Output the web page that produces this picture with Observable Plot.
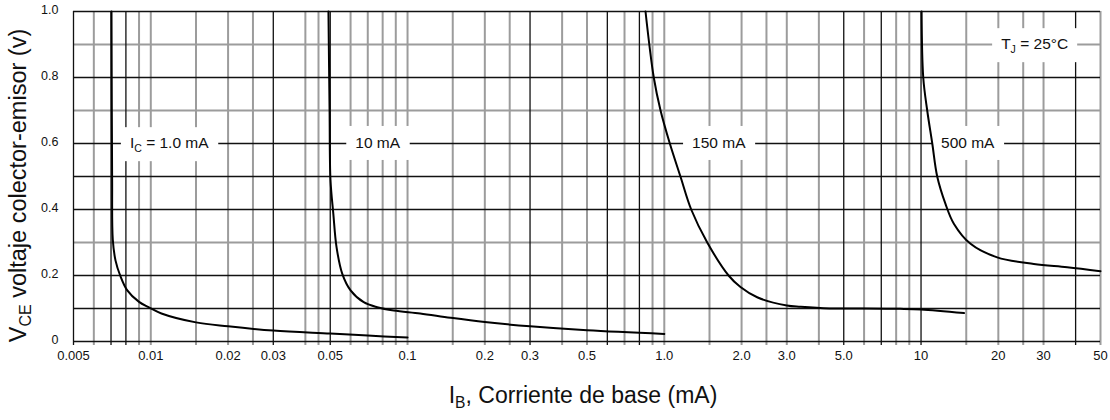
<!DOCTYPE html>
<html><head><meta charset="utf-8">
<script src="https://cdn.jsdelivr.net/npm/d3@7"></script>
<script src="https://cdn.jsdelivr.net/npm/@observablehq/plot@0.6"></script>
<style>body{margin:0;background:#fff;}</style>
</head><body><div id="chart"></div>
<script>
// ---- tick labels ----
const xTickValues = [0.005,0.01,0.02,0.03,0.05,0.1,0.2,0.3,0.5,1,2,3,5,10,20,30,50];
const xTickLabels = ["0.005","0.01","0.02","0.03","0.05","0.1","0.2","0.3","0.5","1.0","2.0","3.0","5.0","10","20","30","50"];
const yTickValues = [0,0.2,0.4,0.6,0.8,1.0];
const yTickLabels = ["0","0.2","0.4","0.6","0.8","1.0"];

// ---- grid (datasheet style: dark and grey lines) ----
const gridXDark = [0.005,0.007,0.008,0.03,0.05,0.3,0.6,0.8,5,7,10,40];
const gridXGrey = [0.006,0.009,0.01,0.015,0.02,0.025,0.04,0.045,0.06,0.07,0.08,0.09,0.1,0.15,0.2,0.25,0.4,0.5,0.7,0.9,1,1.5,2,2.5,3,4,6,8,9,15,20,25,30,50];
const gridYDark = [0,0.1,0.2,0.4,0.5,0.6,0.8,1.0];
const gridYGrey = [0.3,0.7,0.9];

// ---- curves: IB (mA) vs VCE (V) ----
const ic1IB  = [0.00703,0.00705,0.00707,0.00711,0.00729,0.0076,0.0081,0.009,0.0098,0.011,0.015,0.02,0.03,0.05,0.07,0.1];
const ic1VCE = [1.0,0.70,0.49,0.31,0.245,0.20,0.155,0.12,0.104,0.085,0.058,0.046,0.033,0.024,0.018,0.012];
const ic2IB  = [0.0492,0.0497,0.0501,0.0514,0.0529,0.0557,0.060,0.0675,0.0762,0.0884,0.112,0.147,0.2,0.3,0.5,1.0];
const ic2VCE = [1.0,0.70,0.49,0.387,0.286,0.205,0.155,0.119,0.104,0.094,0.085,0.072,0.059,0.046,0.034,0.023];
const ic3IB  = [0.845,0.91,0.967,1.051,1.156,1.273,1.47,1.78,1.98,2.3,3.0,3.4,4.4,6.0,8.3,10,14.7];
const ic3VCE = [1.0,0.80,0.70,0.60,0.50,0.40,0.30,0.20,0.165,0.134,0.109,0.105,0.100,0.100,0.099,0.097,0.086];
const ic4IB  = [10.05,10.2,10.57,11.06,11.56,12.45,13.42,15.59,19.8,27.5,37.1,50];
const ic4VCE = [1.0,0.80,0.70,0.60,0.50,0.417,0.357,0.296,0.255,0.235,0.225,0.213];

// ---- annotations ----
const labelTexts = ["I_C = 1.0 mA","10 mA","150 mA","500 mA","T_J = 25°C"];
const labelIB    = [0.0118,0.0765,1.63,15.2,27.7];
const labelVCE   = [0.6,0.6,0.6,0.6,0.9];

const xTitle = "I_B, Corriente de base (mA)";
const yTitle = "V_CE voltaje colector-emisor (v)";

// build tables
const seriesList = [["1.0",ic1IB,ic1VCE],["10",ic2IB,ic2VCE],["150",ic3IB,ic3VCE],["500",ic4IB,ic4VCE]];
const rows = seriesList.flatMap(([ic,ib,v]) => ib.map((d,i)=>({ic, ib:d, vce:v[i]})));
const labels = labelTexts.map((t,i)=>({text:t, ib:labelIB[i], vce:labelVCE[i]}));
const xTicks = xTickValues.map((d,i)=>({v:d, label:xTickLabels[i]}));
const yFmt = new Map(yTickValues.map((d,i)=>[d,yTickLabels[i]]));

const GREY = "#9c9c9c", DARK = "#111";

const chart = Plot.plot({
  width:1110, height:420,
  marginLeft:73, marginRight:10, marginTop:11, marginBottom:79,
  x:{type:"log", domain:[0.005,50], label:null, axis:null},
  y:{domain:[0,1], label:null},
  style:{fontFamily:"'Liberation Sans', Arial, Helvetica, sans-serif", background:"#fff", color:"#000"},
  marks:[
    Plot.ruleX(gridXGrey,{stroke:GREY, strokeWidth:2, insetBottom:-4}),
    Plot.ruleY(gridYGrey,{stroke:GREY, strokeWidth:2}),
    Plot.ruleY(gridYDark,{stroke:DARK, strokeWidth:1.3}),
    Plot.ruleX(gridXDark,{stroke:DARK, strokeWidth:1.3, insetBottom:-4}),
    Plot.text(labels,{x:"ib", y:"vce", text:"text", fontSize:15.5, fill:"#111"}),
    Plot.line(rows,{x:"ib", y:"vce", z:"ic", stroke:"#000", strokeWidth:2, curve:"catmull-rom"}),
    Plot.text(xTicks,{x:"v", text:"label", frameAnchor:"bottom", dy:18, fontSize:13, fill:"#111"}),
    Plot.axisY({ticks:yTickValues, tickFormat:d=>yFmt.get(d), tickSize:0, tickPadding:15, dy:-2, fontSize:12.5, fill:"#111"}),
    Plot.text([yTitle],{frameAnchor:"left", textAnchor:"middle", dx:-55, dy:9, rotate:-90, fontSize:23.5, fill:"#111"}),
    Plot.text([xTitle],{frameAnchor:"bottom", textAnchor:"middle", dx:-4, dy:61, fontSize:23, fill:"#111"})
  ]
});
document.getElementById("chart").appendChild(chart);

const NS = "http://www.w3.org/2000/svg";
// identify the in-chart annotation texts before rebuilding them
const labelSet = new Set(labelTexts);
const annTexts = [...chart.querySelectorAll("text")].filter(t => labelSet.has(t.textContent));

// subscripts (X_YZ -> X with subscript YZ)
function subscriptify(t){
  const s = t.textContent;
  if(!s.includes("_")) return;
  const fs = parseFloat(getComputedStyle(t).fontSize) || 12;
  t.textContent = "";
  const re = /_([A-Z]+)/g; let last = 0, m; const parts = [];
  while((m = re.exec(s))){ parts.push([s.slice(last,m.index),false]); parts.push([m[1],true]); last = re.lastIndex; }
  parts.push([s.slice(last),false]);
  let shifted = false;
  for(const [str,sub] of parts){
    if(!str) continue;
    const ts = document.createElementNS(NS,"tspan");
    ts.textContent = str;
    if(sub){ ts.setAttribute("font-size", fs*0.68); ts.setAttribute("dy", fs*0.22); shifted = true; }
    else if(shifted){ ts.setAttribute("dy", -fs*0.22); shifted = false; }
    t.appendChild(ts);
  }
}
chart.querySelectorAll("text").forEach(subscriptify);

// white boxes behind in-chart labels
annTexts.forEach(t=>{
  const b = t.getBBox();
  const padX = 9, halfH = 17;
  const r = document.createElementNS(NS,"rect");
  r.setAttribute("x", b.x - padX);
  r.setAttribute("y", b.y + b.height/2 - halfH);
  r.setAttribute("width", b.width + 2*padX);
  r.setAttribute("height", 2*halfH);
  r.setAttribute("fill", "#fff");
  r.setAttribute("stroke", "none");
  if(t.getAttribute("transform")) r.setAttribute("transform", t.getAttribute("transform"));
  t.parentNode.insertBefore(r, t);
});
</script>
</body></html>
